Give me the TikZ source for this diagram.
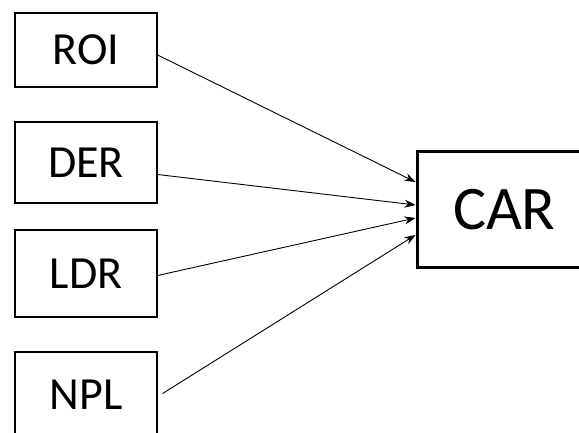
\documentclass[tikz,border=0pt]{standalone}
\usepackage{fontspec}
\setmainfont{Carlito}
\usetikzlibrary{arrows.meta}

\tikzset{
  inbox/.style={draw,line width=1.2pt,minimum width=142pt,inner sep=0pt,font=\fontsize{46}{46}\selectfont},
  outbox/.style={draw,line width=3pt,minimum width=170pt,minimum height=115pt,inner sep=0pt,font=\fontsize{62}{62}\selectfont},
  feed/.style={line width=0.9pt,-{Stealth[length=11pt,width=8pt]}}
}

\begin{document}
\begin{tikzpicture}[x=1pt,y=1pt]
  \useasboundingbox (0,0) rectangle (579,432);
  \node[inbox,minimum height=74pt] (roi) at (86,382)   {ROI};
  \node[inbox,minimum height=81pt] (der) at (86,269.5) {DER};
  \node[inbox,minimum height=87pt] (ldr) at (86,158.5) {LDR};
  \node[inbox,minimum height=85pt] (npl) at (86,37.5)  {NPL};
  \node[outbox,text width=170pt,align=left] (car) at (502,222.5) {\hspace{36pt}CAR};
  \draw[feed] ([yshift=-5pt]roi.east)  -- ([yshift=27.5pt]car.west);
  \draw[feed] ([yshift=-12pt]der.east) -- ([yshift=4.5pt]car.west);
  \draw[feed] ([yshift=-2pt]ldr.east)  -- ([yshift=-8.5pt]car.west);
  \draw[feed] ([xshift=5pt,yshift=1pt]npl.east) -- ([yshift=-25.5pt]car.west);
\end{tikzpicture}
\end{document}
